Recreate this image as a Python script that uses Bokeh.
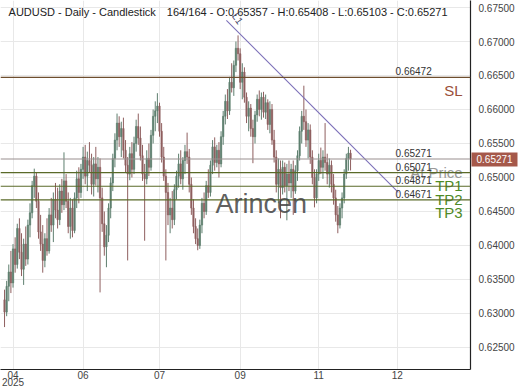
from bokeh.plotting import figure
from bokeh.models import (Span, Label, FixedTicker, NumeralTickFormatter, Range1d,
                          ColumnDataSource, LinearAxis)
from bokeh.embed import file_html
from bokeh.resources import INLINE

# ---------------- data ----------------
opens = [
 0.6320,0.6302,0.6340,0.6361,0.6345,0.6395,0.6372,0.6425,0.6390,0.6365,
 0.6402,0.6380,0.6430,0.6448,0.6488,0.6502,0.6465,0.6420,0.6402,0.6378,
 0.6410,0.6392,0.6445,0.6430,0.6468,0.6452,0.6438,0.6480,0.6460,0.6495,
 0.6465,0.6428,0.6455,0.6422,0.6470,0.6498,0.6478,0.6512,0.6530,0.6502,
 0.6525,0.6518,0.6490,0.6520,0.6498,0.6515,0.6470,0.6432,0.6398,0.6415,
 0.6455,0.6492,0.6528,0.6555,0.6580,0.6560,0.6572,0.6540,0.6518,0.6505,
 0.6535,0.6512,0.6550,0.6575,0.6558,0.6532,0.6505,0.6498,0.6528,0.6515,
 0.6562,0.6590,0.6598,0.6605,0.6568,0.6530,0.6502,0.6478,0.6445,0.6455,
 0.6438,0.6482,0.6502,0.6520,0.6498,0.6525,0.6538,0.6530,0.6490,0.6455,
 0.6428,0.6410,0.6400,0.6430,0.6462,0.6450,0.6488,0.6478,0.6518,0.6545,
 0.6522,0.6540,0.6520,0.6560,0.6590,0.6612,0.6598,0.6640,0.6632,0.6665,
 0.6690,0.6682,0.6640,0.6655,0.6618,0.6590,0.6602,0.6572,0.6560,0.6592,
 0.6615,0.6600,0.6618,0.6596,0.6610,0.6578,0.6600,0.6555,0.6530,0.6490,
 0.6512,0.6485,0.6515,0.6488,0.6505,0.6492,0.6512,0.6480,0.6510,0.6532,
 0.6568,0.6590,0.6582,0.6555,0.6570,0.6530,0.6500,0.6470,0.6505,0.6525,
 0.6515,0.6530,0.6522,0.6505,0.6518,0.6490,0.6470,0.6445,0.6430,0.6455,
 0.6470,0.6505,0.6528,0.65357]
highs = [
 0.6335,0.6348,0.6372,0.6392,0.6402,0.6412,0.6432,0.6440,0.6418,0.6410,
 0.6428,0.6438,0.6462,0.6495,0.6513,0.6508,0.6478,0.6445,0.6430,0.6418,
 0.6440,0.6455,0.6470,0.6478,0.6492,0.6485,0.6490,0.6498,0.6537,0.6505,
 0.6478,0.6470,0.6468,0.6478,0.6510,0.6515,0.6520,0.6545,0.6548,0.6538,
 0.6552,0.6535,0.6530,0.6545,0.6530,0.6528,0.6485,0.6450,0.6430,0.6462,
 0.6500,0.6535,0.6565,0.6594,0.6590,0.6582,0.6588,0.6555,0.6530,0.6545,
 0.6552,0.6560,0.6585,0.6594,0.6575,0.6548,0.6520,0.6540,0.6550,0.6570,
 0.6600,0.6612,0.6624,0.6610,0.6580,0.6545,0.6512,0.6492,0.6470,0.6480,
 0.6490,0.6510,0.6535,0.6540,0.6530,0.6548,0.6566,0.6542,0.6500,0.6468,
 0.6440,0.6425,0.6438,0.6470,0.6478,0.6495,0.6512,0.6525,0.6555,0.6559,
 0.6548,0.6552,0.6568,0.6598,0.6622,0.6630,0.6648,0.6668,0.6672,0.6700,
 0.6709,0.6690,0.6668,0.6662,0.6625,0.6612,0.6608,0.6585,0.6598,0.6622,
 0.6628,0.6625,0.6626,0.6622,0.6615,0.6612,0.6608,0.6570,0.6540,0.6528,
 0.6525,0.6525,0.6522,0.6520,0.6525,0.6520,0.6525,0.6518,0.6540,0.6575,
 0.6598,0.6635,0.6600,0.6580,0.6578,0.6540,0.6512,0.6512,0.6535,0.6544,
 0.6540,0.6580,0.6535,0.6528,0.6525,0.6505,0.6482,0.6458,0.6462,0.6478,
 0.6512,0.6535,0.6545,0.65408]
lows = [
 0.6280,0.6296,0.6318,0.6330,0.6338,0.6360,0.6366,0.6380,0.6355,0.6342,
 0.6370,0.6372,0.6412,0.6440,0.6470,0.6455,0.6410,0.6392,0.6360,0.6368,
 0.6385,0.6388,0.6420,0.6405,0.6440,0.6425,0.6430,0.6448,0.6452,0.6455,
 0.6418,0.6410,0.6412,0.6418,0.6455,0.6462,0.6470,0.6498,0.6490,0.6480,
 0.6508,0.6475,0.6472,0.6488,0.6478,0.6331,0.6420,0.6385,0.6368,0.6405,
 0.6440,0.6480,0.6515,0.6540,0.6545,0.6530,0.6528,0.6508,0.6378,0.6496,
 0.6500,0.6505,0.6538,0.6548,0.6525,0.6495,0.6407,0.6490,0.6502,0.6510,
 0.6550,0.6568,0.6580,0.6560,0.6522,0.6495,0.6378,0.6430,0.6418,0.6425,
 0.6430,0.6468,0.6485,0.6490,0.6482,0.6505,0.6520,0.6478,0.6445,0.6418,
 0.6402,0.6393,0.6395,0.6418,0.6440,0.6445,0.6470,0.6472,0.6505,0.6510,
 0.6515,0.6500,0.6515,0.6548,0.6578,0.6586,0.6592,0.6625,0.6620,0.6655,
 0.6672,0.6630,0.6615,0.6610,0.6580,0.6568,0.6560,0.6521,0.6550,0.6582,
 0.6590,0.6585,0.6588,0.6586,0.6570,0.6565,0.6548,0.6522,0.6478,0.6462,
 0.6440,0.6475,0.6478,0.6437,0.6480,0.6470,0.6445,0.6476,0.6495,0.6525,
 0.6550,0.6570,0.6545,0.6528,0.6520,0.6490,0.6456,0.6462,0.6495,0.6505,
 0.6498,0.6510,0.6490,0.6485,0.6478,0.6460,0.6435,0.6418,0.6425,0.6440,
 0.6462,0.6498,0.6510,0.65103]
closes = [
 0.6302,0.6340,0.6361,0.6345,0.6395,0.6372,0.6425,0.6390,0.6365,0.6402,
 0.6380,0.6430,0.6448,0.6488,0.6502,0.6465,0.6420,0.6402,0.6378,0.6410,
 0.6392,0.6445,0.6430,0.6468,0.6452,0.6438,0.6480,0.6460,0.6495,0.6465,
 0.6428,0.6455,0.6422,0.6470,0.6498,0.6478,0.6512,0.6530,0.6502,0.6525,
 0.6518,0.6490,0.6520,0.6498,0.6515,0.6470,0.6432,0.6398,0.6415,0.6455,
 0.6492,0.6528,0.6555,0.6580,0.6560,0.6572,0.6540,0.6518,0.6505,0.6535,
 0.6512,0.6550,0.6575,0.6558,0.6532,0.6505,0.6498,0.6528,0.6515,0.6562,
 0.6590,0.6598,0.6605,0.6568,0.6530,0.6502,0.6478,0.6445,0.6455,0.6438,
 0.6482,0.6502,0.6520,0.6498,0.6525,0.6538,0.6530,0.6490,0.6455,0.6428,
 0.6410,0.6400,0.6430,0.6462,0.6450,0.6488,0.6478,0.6518,0.6545,0.6522,
 0.6540,0.6520,0.6560,0.6590,0.6612,0.6598,0.6640,0.6632,0.6665,0.6690,
 0.6682,0.6640,0.6655,0.6618,0.6590,0.6602,0.6572,0.6560,0.6592,0.6615,
 0.6600,0.6618,0.6596,0.6610,0.6578,0.6600,0.6555,0.6530,0.6490,0.6512,
 0.6485,0.6515,0.6488,0.6505,0.6492,0.6512,0.6480,0.6510,0.6532,0.6568,
 0.6590,0.6582,0.6555,0.6570,0.6530,0.6500,0.6470,0.6505,0.6525,0.6515,
 0.6530,0.6522,0.6505,0.6518,0.6490,0.6470,0.6445,0.6430,0.6455,0.6470,
 0.6505,0.6528,0.6536,0.65271]
candle_index = list(range(len(closes)))

ytick_values = [0.625, 0.630, 0.635, 0.640, 0.645, 0.650, 0.655, 0.660, 0.665, 0.670, 0.675]
xtick_positions = [4, 37, 73, 111, 148, 185]
xtick_labels = ["04", "06", "07", "09", "11", "12"]
year_label = "2025"

level_values = [0.66472, 0.65271, 0.65071, 0.64871, 0.64671]
level_names = ["SL", "At Price", "TP1", "TP2", "TP3"]
level_line_colors = ["#6e4e2e", "#9a9090", "#5a6a28", "#5a6a28", "#5a6a28"]
level_text_colors = ["#9a4e3a", "#9a9a9a", "#4e8a26", "#4e8a26", "#4e8a26"]

trend_x = [104.5, 185.5]
trend_y = [0.6731, 0.6478]

title_text = "AUDUSD - Daily - Candlestick\u2003164/164 - O:0.65357 - H:0.65408 - L:0.65103 - C:0.65271"
last_price = 0.65271

FONT = "Liberation Sans"

# ---------------- figure ----------------
p = figure(width=520, height=390, output_backend="svg", toolbar_location=None,
           x_range=Range1d(-1.9, 219.5), y_range=Range1d(0.62176, 0.67603),
           y_axis_location="right", min_border_left=0, min_border_top=0,
           min_border_right=50, min_border_bottom=21)
p.background_fill_color = "white"
p.border_fill_color = "white"
p.outline_line_color = None

p.yaxis.ticker = FixedTicker(ticks=ytick_values)
p.yaxis.formatter = NumeralTickFormatter(format="0.00000")
p.xaxis.ticker = FixedTicker(ticks=xtick_positions)
p.xaxis.major_label_overrides = {k: v for k, v in zip(xtick_positions, xtick_labels)}
for ax in (p.xaxis, p.yaxis):
    ax.axis_line_color = "#222222"
    ax.axis_line_width = 1.2
    ax.major_tick_line_color = None
    ax.minor_tick_line_color = None
    ax.major_tick_out = 0
    ax.major_label_text_font = FONT
    ax.major_label_text_font_size = "10px"
    ax.major_label_text_color = "#444444"
p.yaxis.major_label_standoff = 8
p.xaxis.major_label_standoff = 1
p.grid.grid_line_color = "#e8e8e8"
p.grid.grid_line_width = 1

# extra right axis: last-price marker box with white value
price_axis = LinearAxis(ticker=FixedTicker(ticks=[last_price]),
                        formatter=NumeralTickFormatter(format="0.00000"),
                        axis_line_color=None, major_tick_in=46, major_tick_out=0,
                        major_tick_line_color="#a5584a", major_tick_line_width=14,
                        minor_tick_line_color=None, major_label_standoff=-41,
                        major_label_text_color="white", major_label_text_font=FONT,
                        major_label_text_font_size="10px")
p.add_layout(price_axis, "right")

# extra bottom axis: year under the first month label
year_axis = LinearAxis(ticker=FixedTicker(ticks=[xtick_positions[0]]),
                       major_label_overrides={xtick_positions[0]: year_label},
                       axis_line_color=None, major_tick_line_color=None,
                       minor_tick_line_color=None, major_tick_out=0,
                       major_label_standoff=-4, major_label_text_color="#444444",
                       major_label_text_font=FONT, major_label_text_font_size="10px")
p.add_layout(year_axis, "below")

# candles
inc = [c >= o for o, c in zip(opens, closes)]
colors = ["#5e7f6f" if u else "#8f5f5f" for u in inc]
src = ColumnDataSource(dict(x=candle_index, o=opens, h=highs, l=lows, c=closes,
                            top=[max(a, b) for a, b in zip(opens, closes)],
                            bot=[min(a, b) for a, b in zip(opens, closes)],
                            color=colors))
p.segment(x0="x", y0="h", x1="x", y1="l", source=src, line_color="color", line_width=1)
p.vbar(x="x", top="top", bottom="bot", width=0.65, source=src, fill_color="color",
       line_color="color", line_width=0.6)

# trend line L1
p.line(trend_x, trend_y, line_color="#7b6fb8", line_width=1.1)
p.add_layout(Label(x=109.8, y=0.67338, text="L1", angle=-55, angle_units="deg",
                   text_font=FONT, text_font_size="10px", text_color="#444466",
                   text_align="center", text_baseline="middle"))

# horizontal levels
for val, name, lc, tc in zip(level_values, level_names, level_line_colors, level_text_colors):
    p.add_layout(Span(location=val, dimension="width", line_color=lc, line_width=1.1))
    p.add_layout(Label(x=184.2, y=val, y_offset=2, text=f"{val:.5f}", text_font=FONT,
                       text_font_size="10px", text_color="#333333", text_baseline="bottom"))
    p.add_layout(Label(x=215.8, y=val, y_offset=-13, text=name, text_font=FONT,
                       text_font_size="15px", text_color=tc, text_align="right",
                       text_baseline="middle"))

# watermark
p.add_layout(Label(x=99.4, y=0.64604, text="Arincen", text_font=FONT, text_font_size="27px",
                   text_color="#444444", text_alpha=0.85, text_baseline="alphabetic"))

# header
p.add_layout(Label(x=1.9, y=0.67441, text=title_text, text_font=FONT, text_font_size="11px",
                   text_color="#222222", text_baseline="middle"))

open("out.html", "w").write(file_html(p, INLINE))
